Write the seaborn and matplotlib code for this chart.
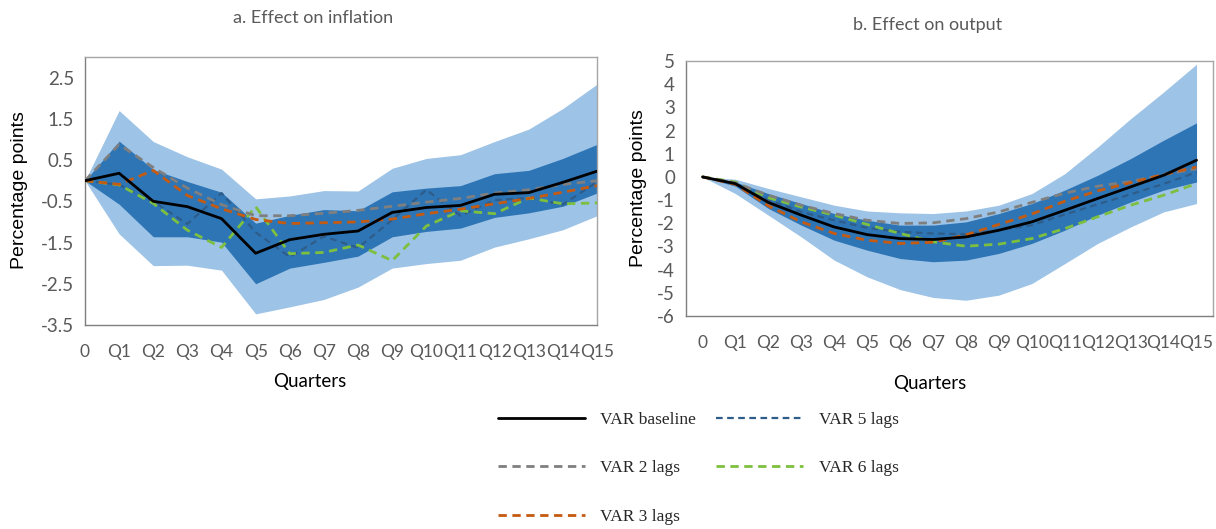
import numpy as np
import pandas as pd
import matplotlib
matplotlib.use("Agg")
import matplotlib.pyplot as plt
import seaborn as sns
from matplotlib.lines import Line2D

# ---------------- data ----------------
quarters = ["0", "Q1", "Q2", "Q3", "Q4", "Q5", "Q6", "Q7", "Q8", "Q9",
            "Q10", "Q11", "Q12", "Q13", "Q14", "Q15"]

# a. Effect on inflation
inf_baseline = [0, 0.18, -0.5, -0.63, -0.92, -1.76, -1.43, -1.3, -1.22, -0.77, -0.65, -0.6, -0.33, -0.29, -0.04, 0.23]
inf_outer_up = [0, 1.7, 0.95, 0.58, 0.28, -0.44, -0.37, -0.24, -0.25, 0.3, 0.54, 0.63, 0.95, 1.25, 1.75, 2.34]
inf_outer_lo = [0, -1.29, -2.06, -2.05, -2.17, -3.23, -3.06, -2.88, -2.58, -2.12, -2.01, -1.93, -1.61, -1.41, -1.19, -0.85]
inf_inner_up = [0, 0.96, 0.27, -0.02, -0.28, -1.03, -0.84, -0.7, -0.73, -0.27, -0.18, -0.12, 0.17, 0.25, 0.54, 0.88]
inf_inner_lo = [0, -0.57, -1.36, -1.36, -1.49, -2.5, -2.12, -1.98, -1.83, -1.36, -1.23, -1.15, -0.89, -0.78, -0.62, -0.3]
inf_lags2 = [0, 0.88, 0.32, -0.18, -0.58, -0.85, -0.85, -0.79, -0.72, -0.62, -0.52, -0.43, -0.3, -0.22, -0.09, 0.0]
inf_lags3 = [0, -0.09, 0.25, -0.36, -0.68, -0.94, -1.04, -1.02, -1.0, -0.93, -0.8, -0.69, -0.56, -0.43, -0.28, -0.12]
inf_lags5 = [0, -0.1, -0.5, -1.05, -0.3, -1.25, -1.85, -1.35, -1.63, -0.95, -0.22, -0.85, -0.47, -0.42, -0.58, -0.03]
inf_lags6 = [0, -0.1, -0.55, -1.2, -1.62, -0.63, -1.77, -1.74, -1.56, -1.94, -1.1, -0.73, -0.8, -0.42, -0.56, -0.54]

# b. Effect on output
out_baseline = [0, -0.29, -1.1, -1.65, -2.16, -2.49, -2.66, -2.7, -2.59, -2.3, -1.94, -1.44, -0.93, -0.43, 0.07, 0.72]
out_outer_up = [0, -0.1, -0.5, -0.86, -1.22, -1.47, -1.55, -1.58, -1.47, -1.22, -0.72, 0.14, 1.29, 2.51, 3.66, 4.86]
out_outer_lo = [0, -0.72, -1.65, -2.59, -3.59, -4.31, -4.86, -5.2, -5.32, -5.1, -4.6, -3.74, -2.87, -2.16, -1.51, -1.15]
out_inner_up = [0, -0.22, -0.72, -1.15, -1.58, -1.87, -2.08, -2.08, -1.94, -1.58, -1.15, -0.57, 0.07, 0.79, 1.58, 2.33]
out_inner_lo = [0, -0.4, -1.36, -2.08, -2.73, -3.16, -3.52, -3.66, -3.59, -3.3, -2.87, -2.3, -1.65, -1.08, -0.57, -0.22]
out_lags2 = [0, -0.26, -0.79, -1.22, -1.58, -1.87, -2.01, -1.98, -1.8, -1.51, -1.1, -0.7, -0.4, -0.2, 0.1, 0.35]
out_lags3 = [0, -0.32, -1.25, -1.94, -2.44, -2.73, -2.87, -2.82, -2.5, -2.05, -1.6, -1.05, -0.6, -0.25, 0.1, 0.43]
out_lags5 = [0, -0.29, -0.98, -1.51, -1.87, -2.2, -2.37, -2.44, -2.47, -2.3, -2.08, -1.62, -1.18, -0.75, -0.3, 0.2]
out_lags6 = [0, -0.22, -0.9, -1.3, -1.65, -2.05, -2.44, -2.8, -2.99, -2.9, -2.66, -2.23, -1.72, -1.22, -0.79, -0.29]

inf_yticks = [-3.5, -2.5, -1.5, -0.5, 0.5, 1.5, 2.5]
out_yticks = [-6, -5, -4, -3, -2, -1, 0, 1, 2, 3, 4, 5]

series_names = ["VAR baseline", "VAR 2 lags", "VAR 3 lags", "VAR 5 lags", "VAR 6 lags"]

# ---------------- style ----------------
sns.set_theme(style="white")
plt.rcParams["font.family"] = ["Lato", "DejaVu Sans"]

TXT = "#595959"
LIGHT = "#9DC3E6"
DARK = "#2E75B6"
styles = {
    "VAR baseline": dict(color="black", ls="-", lw=2.0),
    "VAR 2 lags": dict(color="#7F7F7F", ls=(0, (3, 2)), lw=2.0),
    "VAR 3 lags": dict(color="#C55A11", ls=(0, (3, 2)), lw=2.0),
    "VAR 5 lags": dict(color="#2F5D8A", ls=(0, (3, 2)), lw=1.6),
    "VAR 6 lags": dict(color="#7DBF3F", ls=(0, (3, 2)), lw=2.0),
}

fig = plt.figure(figsize=(12.16, 5.29), dpi=100)
W, H = 1216, 529
ax1 = fig.add_axes([85 / W, 1 - 325 / H, (597 - 85) / W, (325 - 57) / H])
ax2 = fig.add_axes([686 / W, 1 - 316 / H, (1213 - 686) / W, (316 - 61) / H])

x = np.arange(len(quarters))


def draw(ax, outer_up, outer_lo, inner_up, inner_lo, lines):
    ax.fill_between(x, outer_lo, outer_up, color=LIGHT, lw=0, zorder=1)
    ax.fill_between(x, inner_lo, inner_up, color=DARK, lw=0, zorder=2)
    order = ["VAR 5 lags", "VAR 6 lags", "VAR 2 lags", "VAR 3 lags", "VAR baseline"]
    for name in order:
        df = pd.DataFrame({"x": x, "y": lines[name]})
        st = styles[name]
        sns.lineplot(data=df, x="x", y="y", ax=ax, color=st["color"],
                     linestyle=st["ls"], linewidth=st["lw"], zorder=3)
    ax.set_xlabel("")
    ax.set_ylabel("")
    for s in ax.spines.values():
        s.set_color("#A6A6A6")
        s.set_linewidth(1.0)
    ax.spines["left"].set_color("#7F7F7F")
    ax.spines["bottom"].set_color("#7F7F7F")
    ax.tick_params(axis="both", direction="in", length=5, width=1, color="#7F7F7F",
                   labelcolor=TXT, labelsize=13.5)
    ax.tick_params(axis="x", labelsize=12.5)


draw(ax1, inf_outer_up, inf_outer_lo, inf_inner_up, inf_inner_lo,
     {"VAR baseline": inf_baseline, "VAR 2 lags": inf_lags2, "VAR 3 lags": inf_lags3,
      "VAR 5 lags": inf_lags5, "VAR 6 lags": inf_lags6})
draw(ax2, out_outer_up, out_outer_lo, out_inner_up, out_inner_lo,
     {"VAR baseline": out_baseline, "VAR 2 lags": out_lags2, "VAR 3 lags": out_lags3,
      "VAR 5 lags": out_lags5, "VAR 6 lags": out_lags6})

# left panel: points on tick marks
ax1.set_xlim(0, 15)
ax1.set_ylim(-3.5, 3.0)
ax1.set_yticks(inf_yticks)
ax1.set_yticklabels([f"{v:.1f}" for v in inf_yticks])
ax1.set_xticks(x)
ax1.set_xticklabels(quarters)
ax1.tick_params(axis="x", pad=14)
ax1.tick_params(axis="y", pad=8)

# right panel: points between tick marks
ax2.set_xlim(-0.5, 15.5)
ax2.set_ylim(-6, 5)
ax2.set_yticks(out_yticks)
ax2.set_yticklabels([str(v) for v in out_yticks])
ax2.set_xticks(x)
ax2.set_xticklabels(quarters)
ax2.set_xticks(np.arange(0.5, 15, 1), minor=True)
ax2.tick_params(axis="x", which="major", length=0, pad=14)
ax2.tick_params(axis="x", which="minor", direction="in", length=5, width=1, color="#7F7F7F")
ax2.tick_params(axis="y", pad=8)

# titles and axis labels
fig.text(313 / W, 1 - 18 / H, "a. Effect on inflation", ha="center", va="center",
         color=TXT, fontsize=13)
fig.text(928 / W, 1 - 25 / H, "b. Effect on output", ha="center", va="center",
         color=TXT, fontsize=13)
fig.text(20 / W, 1 - 190 / H, "Percentage points", rotation=90, ha="center", va="center",
         color="black", fontsize=14, family=["Liberation Sans"])
fig.text(639 / W, 1 - 188 / H, "Percentage points", rotation=90, ha="center", va="center",
         color="black", fontsize=14, family=["Liberation Sans"])
fig.text(310 / W, 1 - 382 / H, "Quarters", ha="center", va="center", color="black", fontsize=13.5)
fig.text(930 / W, 1 - 383 / H, "Quarters", ha="center", va="center", color="black", fontsize=13.5)

# legend
handles = [Line2D([0], [0], color=styles[n]["color"], linestyle=styles[n]["ls"],
                  linewidth=styles[n]["lw"]) for n in series_names]
fig.legend(handles, series_names, ncol=2, loc="upper left",
           bbox_to_anchor=(498 / W, 1 - 412 / H), frameon=False,
           prop={"family": "Liberation Serif", "size": 12.5},
           handlelength=5.0, handletextpad=0.9, columnspacing=1.15,
           labelspacing=1.85, borderpad=0, borderaxespad=0)

fig.savefig("out.png", dpi=100)
